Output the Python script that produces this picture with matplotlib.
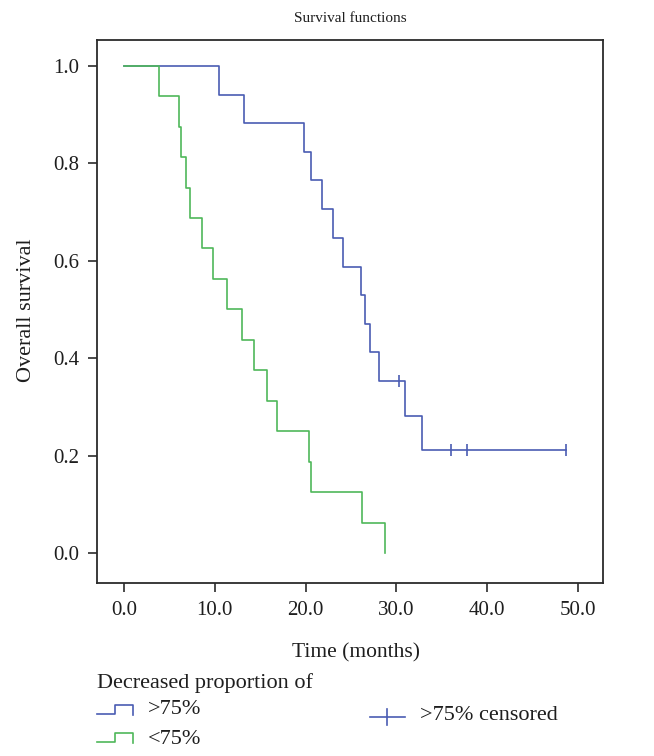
import matplotlib
matplotlib.use("Agg")
import matplotlib.pyplot as plt
from matplotlib.lines import Line2D
from matplotlib.patches import Rectangle

# ---- data ----
blue_times = [0, 10.5, 13.25, 19.85, 20.57, 21.78, 23.05, 24.15, 26.1, 26.54, 27.1, 28.05, 30.95, 32.85, 48.7]
blue_surv = [1.0, 0.941, 0.882, 0.824, 0.765, 0.706, 0.647, 0.588, 0.529, 0.471, 0.412, 0.353, 0.282, 0.212, 0.212]
blue_cens_times = [30.25, 36.0, 37.8, 48.7]
blue_cens_surv = [0.353, 0.212, 0.212, 0.212]

green_times = [0, 3.85, 6.02, 6.28, 6.8, 7.32, 8.59, 9.83, 11.37, 12.97, 14.35, 15.72, 16.87, 20.37, 20.56, 26.18, 28.71]
green_surv = [1.0, 0.9375, 0.875, 0.8125, 0.75, 0.6875, 0.625, 0.5625, 0.5, 0.4375, 0.375, 0.3125, 0.25, 0.1875, 0.125, 0.0625, 0.0]

x_ticks = [0, 10, 20, 30, 40, 50]
x_tick_labels = ["0.0", "10.0", "20.0", "30.0", "40.0", "50.0"]
y_ticks = [0.0, 0.2, 0.4, 0.6, 0.8, 1.0]
y_tick_labels = ["0.0", "0.2", "0.4", "0.6", "0.8", "1.0"]

title = "Survival functions"
x_label = "Time (months)"
y_label = "Overall survival"
legend_title = "Decreased proportion of"
label_blue = ">75%"
label_green = "<75%"
label_cens = ">75% censored"

BLUE = "#4a5cb3"
GREEN = "#4fb85a"
DARK = "#2b2b2b"
TXT = "#1e1e1e"

plt.rcParams['font.family'] = ['Liberation Serif', 'DejaVu Serif']

W, H = 654, 756
fig = plt.figure(figsize=(W / 100, H / 100), dpi=100)
ax = fig.add_axes([97 / W, 1 - 582.5 / H, (603 - 97) / W, (582.5 - 39.5) / H])

ax.step(blue_times, blue_surv, where='post', color=BLUE, lw=1.2)
ax.step(green_times, green_surv, where='post', color=GREEN, lw=1.2)
ax.plot(blue_cens_times, blue_cens_surv, ls='none', marker='|', ms=8, mew=1.2, color=BLUE)

ax.set_xlim(-2.97, 52.75)
ax.set_ylim(-0.0606, 1.054)
ax.set_xticks(x_ticks)
ax.set_xticklabels(x_tick_labels)
ax.set_yticks(y_ticks)
ax.set_yticklabels(y_tick_labels)
ax.tick_params(direction='out', length=6.5, width=1.2, color=DARK, labelsize=15, labelcolor=TXT)
ax.tick_params(axis='x', pad=7)
ax.tick_params(axis='y', pad=6)
for s in ax.spines.values():
    s.set_color(DARK)
    s.set_linewidth(1.3)

fig.text(350 / W, 1 - 18 / H, title, ha='center', va='center', fontsize=11, color=TXT)
fig.text(356 / W, 1 - 653 / H, x_label, ha='center', va='center', fontsize=15.5, color=TXT)
fig.text(27 / W, 1 - 310 / H, y_label, ha='center', va='center', rotation=90, fontsize=16, color=TXT)

# ---- legend drawn manually ----
fig.text(97 / W, 1 - 683 / H, legend_title, ha='left', va='center', fontsize=16, color=TXT)

def step_icon(y_bottom, color):
    xs = [97, 115, 115, 133, 133]
    ys = [y_bottom, y_bottom, y_bottom - 9, y_bottom - 9, y_bottom + 1]
    fig.add_artist(Line2D([x / W for x in xs], [1 - y / H for y in ys],
                          color=color, lw=1.2, transform=fig.transFigure))

step_icon(713.5, BLUE)
fig.text(148 / W, 1 - 709 / H, label_blue, ha='left', va='center', fontsize=16, color=TXT)
step_icon(742, GREEN)
fig.text(148 / W, 1 - 740 / H, label_green, ha='left', va='center', fontsize=16, color=TXT)

fig.add_artist(Line2D([370 / W, 405 / W], [1 - 717 / H, 1 - 717 / H], color=BLUE, lw=1.2,
                      transform=fig.transFigure))
fig.add_artist(Line2D([387 / W, 387 / W], [1 - 709 / H, 1 - 725 / H], color=BLUE, lw=1.2,
                      transform=fig.transFigure))
fig.text(420 / W, 1 - 715 / H, label_cens, ha='left', va='center', fontsize=16, color=TXT)

# the reference crops the last legend row at the bottom edge
fig.add_artist(Rectangle((0, 0), 1, (H - 744) / H, transform=fig.transFigure,
                         facecolor='white', edgecolor='none', zorder=10))

fig.savefig("out.png", dpi=100)
